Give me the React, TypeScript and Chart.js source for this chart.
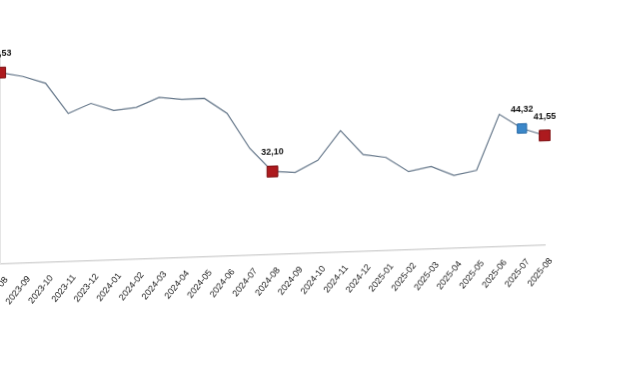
import { useEffect, useRef } from "react";
import { Chart, registerables } from "chart.js";

Chart.register(...registerables);

const categories = [
  "2023-08", "2023-09", "2023-10", "2023-11", "2023-12",
  "2024-01", "2024-02", "2024-03", "2024-04", "2024-05", "2024-06",
  "2024-07", "2024-08", "2024-09", "2024-10", "2024-11", "2024-12",
  "2025-01", "2025-02", "2025-03", "2025-04", "2025-05", "2025-06",
  "2025-07", "2025-08",
];

const values = [
  70.53, 68.9, 66.2, 55.2, 58.5, 55.7, 56.5, 59.8, 58.8, 58.9, 53.3, 40.6,
  32.1, 31.5, 35.5, 45.8, 37.0, 35.7, 30.4, 31.9, 28.5, 30.0, 49.6, 44.32, 41.55,
];

const redMarkers = [0, 12, 24];
const blueMarkers = [23];

const yMin = 2.7;
const yMax = 78;

// layout of the plot area on the page (before the slight skew)
const AREA_TOP = 51.2;
const AREA_W = 545;
const AREA_H = 212.1;
const SKEW_DEG = 1.98;

const fmt = (v: number) => v.toFixed(2).replace(".", ",");

const valueLabelPlugin = {
  id: "valueLabels",
  afterDatasetsDraw(chart: any) {
    const meta = chart.getDatasetMeta(0);
    const ctx = chart.ctx as CanvasRenderingContext2D;
    ctx.save();
    ctx.font = 'bold 9px "Liberation Sans Narrow", "Liberation Sans", Arial, sans-serif';
    ctx.fillStyle = "#111";
    ctx.textAlign = "center";
    ctx.textBaseline = "middle";
    [...redMarkers, ...blueMarkers].forEach((i) => {
      const p = meta.data[i];
      if (p) ctx.fillText(fmt(values[i]), p.x, p.y - 19);
    });
    ctx.restore();
  },
};

function makeConfig(): any {
  return {
    type: "line",
    data: {
      labels: categories,
      datasets: [
        {
          data: values,
          borderColor: "#65778a",
          borderWidth: 1.2,
          tension: 0,
          clip: false,
          pointStyle: "rect",
          pointRadius: (c: any) =>
            redMarkers.includes(c.dataIndex) ? 7.6 : blueMarkers.includes(c.dataIndex) ? 6.6 : 0,
          pointHoverRadius: 0,
          pointBackgroundColor: (c: any) =>
            blueMarkers.includes(c.dataIndex) ? "#3b87c9" : "#ad1a1e",
          pointBorderColor: (c: any) =>
            blueMarkers.includes(c.dataIndex) ? "#2b6ca8" : "#7c0d10",
          pointBorderWidth: 1,
        },
      ],
    },
    options: {
      responsive: false,
      maintainAspectRatio: false,
      animation: false,
      events: [],
      layout: { padding: { top: 4, right: 20, left: 0, bottom: 0 } },
      plugins: { legend: { display: false }, tooltip: { enabled: false } },
      scales: {
        x: {
          type: "category",
          grid: { display: false },
          border: { display: true, color: "#d6d6d6", width: 1.5 },
          ticks: {
            autoSkip: false,
            minRotation: 50,
            maxRotation: 50,
            labelOffset: 6,
            padding: 3,
            color: "#151515",
            font: { size: 9, family: '"Liberation Sans", Arial, sans-serif' },
          },
        },
        y: {
          min: yMin,
          max: yMax,
          grid: { display: false },
          border: { display: true, color: "#e4e4e4", width: 1 },
          ticks: { display: false },
        },
      },
    },
    plugins: [valueLabelPlugin],
  };
}

export default function App() {
  const canvasRef = useRef<HTMLCanvasElement | null>(null);
  const wrapRef = useRef<HTMLDivElement | null>(null);

  useEffect(() => {
    const canvas = canvasRef.current!;
    const wrap = wrapRef.current!;
    let w = 620;
    let h = 320;
    let chart: Chart | null = null;
    for (let k = 0; k < 4; k++) {
      canvas.width = w;
      canvas.height = h;
      canvas.style.width = w + "px";
      canvas.style.height = h + "px";
      chart = new Chart(canvas, makeConfig());
      const ca = chart.chartArea;
      const dw = Math.round(AREA_W - (ca.right - ca.left));
      const dh = Math.round(AREA_H - (ca.bottom - ca.top));
      if ((dw === 0 && dh === 0) || k === 3) break;
      chart.destroy();
      chart = null;
      w += dw;
      h += dh;
    }
    if (chart) {
      const ca = chart.chartArea;
      wrap.style.left = -ca.left + "px";
      wrap.style.top = AREA_TOP - ca.top + "px";
      wrap.style.transformOrigin = `${ca.left}px 0px`;
      wrap.style.transform = `skewY(-${SKEW_DEG}deg)`;
    }
    return () => {
      if (chart) chart.destroy();
    };
  }, []);

  return (
    <div ref={wrapRef} style={{ position: "absolute", left: 0, top: 0 }}>
      <canvas ref={canvasRef} style={{ display: "block" }} />
    </div>
  );
}
